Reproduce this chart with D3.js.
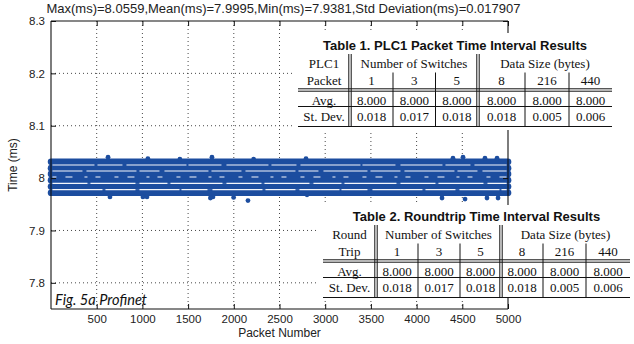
<!DOCTYPE html>
<html><head><meta charset="utf-8">
<script src="https://cdn.jsdelivr.net/npm/d3@7/dist/d3.min.js"></script>
<style>
html,body{margin:0;padding:0;background:#fff;}
svg{display:block;}
</style></head>
<body>
<script>
// ---------- data ----------
const titleText = "Max(ms)=8.0559,Mean(ms)=7.9995,Min(ms)=7.9381,Std Deviation(ms)=0.017907";
const xTicks = [500,1000,1500,2000,2500,3000,3500,4000,4500,5000];
const yTicks = [7.8,7.9,8.0,8.1,8.2,8.3];
// dense quantised rows of packet intervals (ms)
const rowLevels = [8.031, 8.019, 8.008, 7.996, 7.984, 7.972];
const rowStart = 1, rowEnd = 5000;
// isolated points at the edges of the band (packet, ms)
const edgePackets = [624, 1761, 2155, 645, 1006, 1772, 4398, 4508, 4748, 4880, 4278, 4530, 4770, 4891, 2801, 1060, 1410, 2217, 2790, 1050, 1744, 1998];
const edgeValues  = [8.040, 8.040, 7.957, 7.964, 7.964, 7.964, 8.038, 8.040, 8.038, 8.038, 7.962, 7.960, 7.962, 7.962, 7.968, 8.037, 8.036, 8.036, 8.037, 7.964, 7.962, 7.963];

const t1Title = "Table 1. PLC1 Packet Time Interval Results";
const t1Row1 = ["PLC1", "Number of Switches", "Data Size (bytes)"];
const t1Row2 = ["Packet", "1", "3", "5", "8", "216", "440"];
const t2Title = "Table 2. Roundtrip Time Interval Results";
const t2Row1 = ["Round", "Number of Switches", "Data Size (bytes)"];
const t2Row2 = ["Trip", "1", "3", "5", "8", "216", "440"];
const avgLabel = "Avg.", sdLabel = "St. Dev.";
const avgValues = [8.000, 8.000, 8.000, 8.000, 8.000, 8.000];
const sdValues  = [0.018, 0.017, 0.018, 0.018, 0.005, 0.006];

// ---------- chart ----------
const W = 634, H = 344;
const M = {left:51, right:508, top:21, bottom:309};
const svg = d3.select("body").append("svg").attr("width", W).attr("height", H);
const x = d3.scaleLinear().domain([0,5000]).range([M.left, M.right]);
const y = d3.scaleLinear().domain([7.75,8.3]).range([M.bottom, M.top]);
const blue = "#1c4d9f";
const sans = "'Liberation Sans', Arial, sans-serif";
const serif = "'Liberation Serif', 'Times New Roman', serif";

// grid
const grid = svg.append("g").attr("stroke","#333").attr("stroke-width",0.9).attr("stroke-dasharray","1,3");
grid.selectAll("line.v").data(xTicks.filter(d=>d<5000)).join("line")
  .attr("x1",d=>x(d)).attr("x2",d=>x(d)).attr("y1",M.top).attr("y2",M.bottom);
grid.selectAll("line.h").data(yTicks.filter(d=>d<8.3)).join("line")
  .attr("x1",M.left).attr("x2",M.right).attr("y1",d=>y(d)).attr("y2",d=>y(d));

// dense rows
const rowW = Math.abs(y(rowLevels[0]) - y(rowLevels[1])) + 0.4;
const line = d3.line().x(d=>x(d[0])).y(d=>y(d[1]));
svg.append("g").selectAll("path").data(rowLevels).join("path")
  .attr("d", l => line([[rowStart,l],[rowEnd,l]]))
  .attr("stroke", blue).attr("stroke-width", rowW).attr("fill","none").attr("stroke-linecap","round");
// thin quantisation gaps between rows
const gapPatterns = ["42,3,25,4,60,2,33,5", "30,4,50,3,20,5,44,3", "4,9,7,12,3,8,5,14", "35,3,45,4,28,3,52,4", "50,3,30,4,40,2,26,5"];
const gaps = d3.pairs(rowLevels).map(p => (p[0]+p[1])/2);
svg.append("g").selectAll("path").data(gaps).join("path")
  .attr("d", g => line([[rowStart+15,g],[rowEnd-15,g]]))
  .attr("stroke","#f4f6fb").attr("stroke-width",1.1).attr("fill","none")
  .attr("stroke-dasharray",(g,i)=>gapPatterns[i]);
// edge points
svg.append("g").selectAll("circle").data(edgePackets).join("circle")
  .attr("cx",(d)=>x(d)).attr("cy",(d,i)=>y(edgeValues[i])).attr("r",2.4).attr("fill",blue);

// axes box
const axB = svg.append("g").attr("transform",`translate(0,${M.bottom})`)
  .call(d3.axisBottom(x).tickValues(xTicks).tickSize(-5).tickPadding(6).tickFormat(d3.format("d")));
const axL = svg.append("g").attr("transform",`translate(${M.left},0)`)
  .call(d3.axisLeft(y).tickValues(yTicks).tickSize(-5).tickPadding(6).tickFormat(d=>d===8?"8":d.toFixed(1)));
const axT = svg.append("g").attr("transform",`translate(0,${M.top})`)
  .call(d3.axisTop(x).tickValues(xTicks).tickSize(-5).tickFormat(""));
const axR = svg.append("g").attr("transform",`translate(${M.right},0)`)
  .call(d3.axisRight(y).tickValues(yTicks).tickSize(-5).tickFormat(""));
[axB,axL,axT,axR].forEach(a=>{
  a.select(".domain").attr("stroke","#111").attr("stroke-width",1.1);
  a.selectAll(".tick line").attr("stroke","#111");
  a.selectAll("text").attr("font-family",sans).attr("font-size",11.5).attr("fill","#222");
});
axB.select(".domain").attr("d",`M${M.left},0H${M.right}`);
axL.select(".domain").attr("d",`M0,${M.bottom}V${M.top}`);
axT.select(".domain").attr("d",`M${M.left},0H${M.right}`);
axR.select(".domain").attr("d",`M0,${M.bottom}V${M.top}`);

// title and labels
svg.append("text").attr("x",(M.left+M.right)/2+4).attr("y",13).attr("text-anchor","middle")
  .attr("font-family",sans).attr("font-size",13).attr("fill","#222").text(titleText);
svg.append("text").attr("transform",`translate(17,${(M.top+M.bottom)/2}) rotate(-90)`).attr("text-anchor","middle")
  .attr("font-family",sans).attr("font-size",12).attr("fill","#222").text("Time (ms)");
svg.append("text").attr("x",(M.left+M.right)/2).attr("y",337).attr("text-anchor","middle")
  .attr("font-family",sans).attr("font-size",12).attr("fill","#222").text("Packet Number");
svg.append("text").attr("x",55).attr("y",305).attr("font-family","Lato, 'Open Sans', sans-serif")
  .attr("font-style","italic").attr("font-size",15).attr("fill","#111")
  .attr("textLength",92).attr("lengthAdjust","spacingAndGlyphs").text("Fig. 5a Profinet");

// ---------- tables ----------
function drawTable(cfg){
  const g = svg.append("g");
  const c = cfg.cols, t = cfg.top;
  g.append("rect").attr("x",cfg.bg[0]).attr("y",cfg.bg[1]).attr("width",cfg.bg[2]).attr("height",cfg.bg[3]).attr("fill","#fff");
  const L = c[0], R = c[c.length-1];
  const rows = {title:t, r1:t+18, r2:t+35.5, dbl:t+45, avg:t+55, sep:t+61.5, sd:t+71.5, bot:t+81.5};
  g.append("text").attr("x",(L+R)/2).attr("y",rows.title+4.5).attr("text-anchor","middle")
    .attr("font-family",sans).attr("font-weight","bold").attr("font-size",13).attr("fill","#111").text(cfg.title);
  const ln = (x1,y1,x2,y2,w=1)=>g.append("line").attr("x1",x1).attr("y1",y1).attr("x2",x2).attr("y2",y2)
    .attr("stroke","#111").attr("stroke-width",w);
  // horizontal rules
  ln(L,rows.dbl-1.2,R,rows.dbl-1.2); ln(L,rows.dbl+1.2,R,rows.dbl+1.2);
  ln(L,rows.sep,R,rows.sep); ln(L,rows.bot,R,rows.bot,1.2);
  // vertical double rules
  [1,4].forEach(i=>{ ln(c[i]-1.2,rows.r1-9,c[i]-1.2,rows.bot); ln(c[i]+1.2,rows.r1-9,c[i]+1.2,rows.bot); });
  // vertical single rules
  [2,3,5,6].forEach(i=>ln(c[i],rows.r2-8,c[i],rows.bot));
  const txt = (xx,yy,s)=>g.append("text").attr("x",xx).attr("y",yy+4.5).attr("text-anchor","middle")
    .attr("font-family",serif).attr("font-size",13).attr("fill","#111").text(s);
  txt((c[0]+c[1])/2, rows.r1, cfg.row1[0]);
  txt((c[1]+c[4])/2, rows.r1, cfg.row1[1]);
  txt((c[4]+c[7])/2, rows.r1, cfg.row1[2]);
  cfg.row2.forEach((s,i)=>txt((c[i]+c[i+1])/2, rows.r2, s));
  txt((c[0]+c[1])/2, rows.avg, avgLabel);
  txt((c[0]+c[1])/2, rows.sd, sdLabel);
  avgValues.forEach((v,i)=>txt((c[i+1]+c[i+2])/2, rows.avg, d3.format(".3f")(v)));
  sdValues.forEach((v,i)=>txt((c[i+1]+c[i+2])/2, rows.sd, d3.format(".3f")(v)));
}
drawTable({title:t1Title,row1:t1Row1,row2:t1Row2,top:45,cols:[298,350,393,435.5,478,525,569,612],bg:[293,33,324,97]});
drawTable({title:t2Title,row1:t2Row1,row2:t2Row2,top:216,cols:[323,376,418,460,501,543,586,630],bg:[318,205,316,93]});
</script>
</body></html>
